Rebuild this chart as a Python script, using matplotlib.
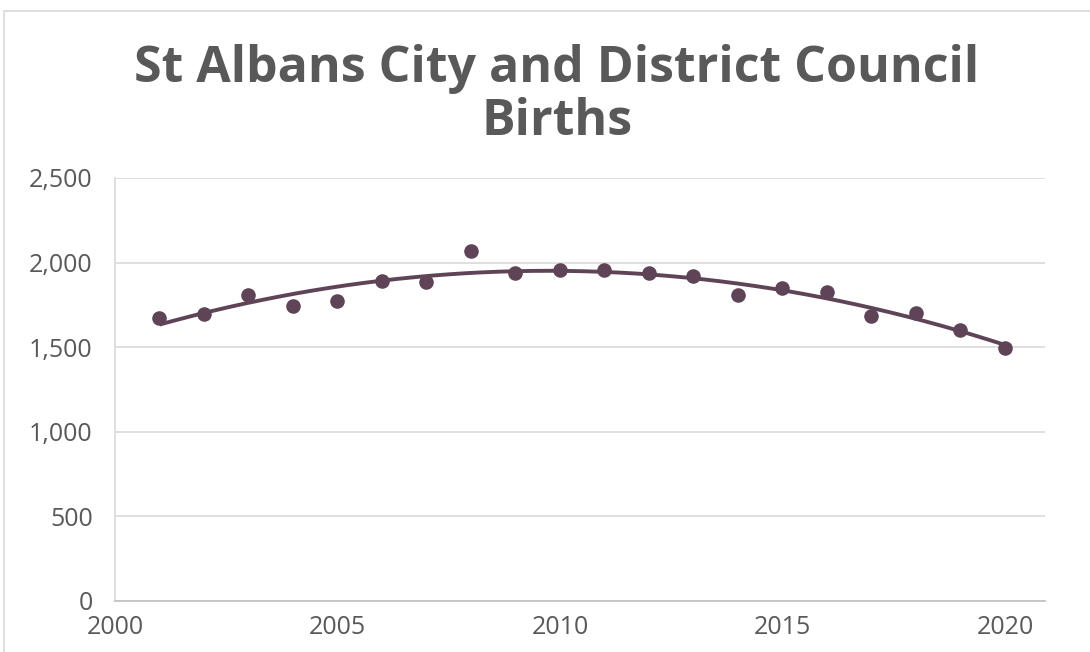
import numpy as np
import matplotlib
matplotlib.use("Agg")
import matplotlib.pyplot as plt
from matplotlib.ticker import FuncFormatter, MultipleLocator
from matplotlib.patches import Rectangle

years = [2001, 2002, 2003, 2004, 2005, 2006, 2007, 2008, 2009, 2010,
         2011, 2012, 2013, 2014, 2015, 2016, 2017, 2018, 2019, 2020]
births = [1675, 1696, 1808, 1743, 1773, 1891, 1885, 2068, 1938, 1956,
          1956, 1938, 1921, 1808, 1850, 1826, 1684, 1702, 1602, 1495]
title_lines = ["St Albans City and District Council", "Births"]

color = "#5f4458"
text_color = "#595959"
grid_color = "#d9d9d9"

fig = plt.figure(figsize=(10.9, 6.52), dpi=100)
fig.patches.append(Rectangle((4/1090, -0.1), 1.2, (652-11)/652 + 0.1, transform=fig.transFigure,
                             fill=False, edgecolor="#d9d9d9", linewidth=1.2))
ax = fig.add_axes([115/1090, 1 - 601/652, 930/1090, 423/652])

# trendline: 2nd-order polynomial fit of the data
coef = np.polyfit(years, births, 2)
xs = np.linspace(min(years), max(years), 200)
ax.plot(xs, np.polyval(coef, xs), color=color, linewidth=2.8, solid_capstyle="butt", zorder=2)
ax.plot(years, births, "o", color=color, markersize=10.5, markeredgewidth=0, zorder=3)

ax.set_xlim(2000, 2020.9)
ax.set_ylim(0, 2500)
ax.xaxis.set_major_locator(MultipleLocator(5))
ax.yaxis.set_major_locator(MultipleLocator(500))
ax.yaxis.set_major_formatter(FuncFormatter(lambda v, p: f"{int(v):,}"))
ax.grid(axis="y", color=grid_color, linewidth=1.2)
ax.set_axisbelow(True)
for s in ["top", "right"]:
    ax.spines[s].set_visible(False)
ax.spines["left"].set_color(grid_color)
ax.spines["left"].set_linewidth(1.2)
ax.spines["bottom"].set_color("#bfbfbf")
ax.spines["bottom"].set_linewidth(1.2)
ax.tick_params(length=0, labelsize=18, labelcolor=text_color)
ax.tick_params(axis="y", pad=16)
ax.tick_params(axis="x", pad=10)
for lbl in ax.get_xticklabels() + ax.get_yticklabels():
    lbl.set_fontfamily("Open Sans")

for txt, ybase in zip(title_lines, [82, 135]):
    fig.text(0.511, 1 - ybase/652, txt, ha="center", va="baseline", fontsize=36,
             fontweight="bold", color=text_color, family="Open Sans")

fig.savefig("out.png", dpi=100)
